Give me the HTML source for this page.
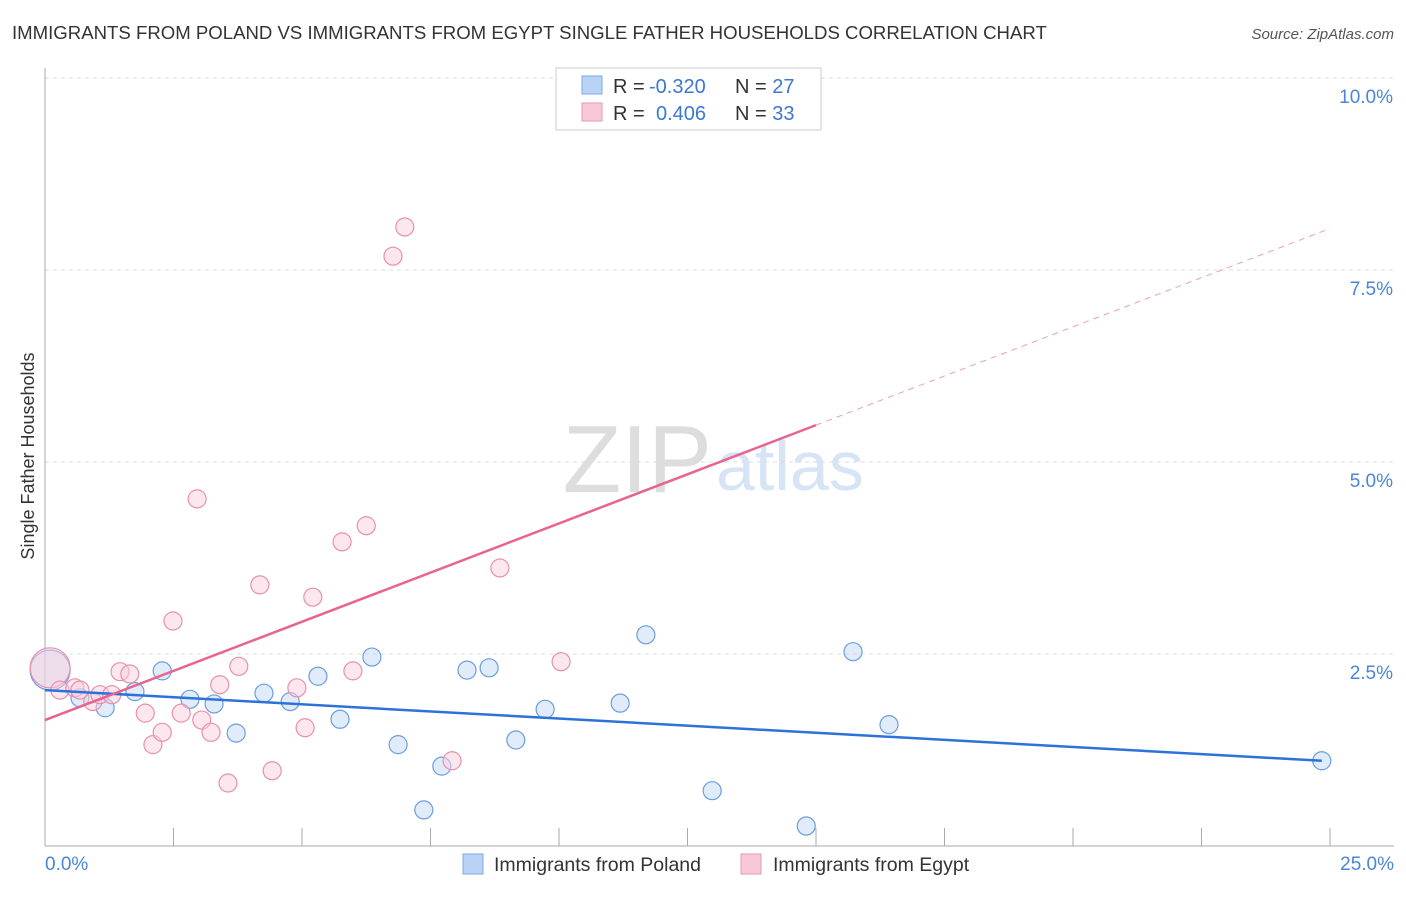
<!DOCTYPE html>
<html><head><meta charset="utf-8"><style>
body{margin:0;background:#fff;font-family:"Liberation Sans",sans-serif;}
svg text{font-family:"Liberation Sans",sans-serif;}
</style></head><body>
<svg width="1406" height="892">
<text x="12" y="39" font-size="18.6" fill="#333">IMMIGRANTS FROM POLAND VS IMMIGRANTS FROM EGYPT SINGLE FATHER HOUSEHOLDS CORRELATION CHART</text>
<text x="1394" y="39" font-size="15" fill="#555" font-style="italic" text-anchor="end">Source: ZipAtlas.com</text>
<text x="712" y="492" font-size="96" fill="#ddd" text-anchor="end" font-family="Liberation Serif">ZIP</text>
<text x="716" y="490" font-size="70" fill="#d6e4f5">atlas</text>
<g id="grid"></g>
<g id="axes"></g>
<g id="points"></g>
<g id="lines"></g>
<text transform="translate(34,456) rotate(-90)" font-size="18" fill="#333" text-anchor="middle">Single Father Households</text>
<g>
<rect x="556" y="68" width="265" height="62" fill="#fff" stroke="#ccc"/>
<rect x="582" y="76" width="20" height="18" fill="#b9d3f4" stroke="#7da8e0"/>
<text x="613" y="93" font-size="20" fill="#333">R =</text>
<text x="649" y="93" font-size="20" fill="#3a78d4">-0.320</text>
<text x="735" y="93" font-size="20" fill="#333">N = <tspan fill="#3a78d4">27</tspan></text>
<rect x="582" y="103" width="20" height="18" fill="#f8c8d6" stroke="#e89ab2"/>
<text x="613" y="120" font-size="20" fill="#333">R =</text>
<text x="656" y="120" font-size="20" fill="#3a78d4">0.406</text>
<text x="735" y="120" font-size="20" fill="#333">N = <tspan fill="#3a78d4">33</tspan></text>
</g>
<g>
<rect x="463" y="854" width="20" height="20" fill="#b9d3f4" stroke="#7da8e0"/>
<text x="494" y="871" font-size="19.5" fill="#333">Immigrants from Poland</text>
<rect x="741" y="854" width="20" height="20" fill="#f8c8d6" stroke="#e89ab2"/>
<text x="773" y="871" font-size="19.5" fill="#333">Immigrants from Egypt</text>
</g>
</svg>
<script>
const polandX=[0.10,0.68,1.17,1.75,2.28,2.82,3.29,3.72,4.26,4.77,5.31,5.74,6.36,6.87,7.37,7.72,8.21,8.64,9.16,9.73,11.19,11.69,12.98,14.81,15.72,16.42,24.84];
const polandY=[2.29,1.93,1.80,2.01,2.28,1.91,1.85,1.47,1.99,1.88,2.21,1.65,2.46,1.32,0.47,1.04,2.29,2.32,1.38,1.78,1.86,2.75,0.72,0.26,2.53,1.58,1.11];
const egyptX=[0.10,0.29,0.58,0.68,0.93,1.07,1.30,1.46,1.65,1.95,2.10,2.28,2.49,2.65,2.96,3.05,3.23,3.40,3.56,3.77,4.18,4.42,4.90,5.06,5.21,5.78,5.99,6.25,6.77,7.00,7.92,8.85,10.04];
const egyptY=[2.32,2.03,2.06,2.03,1.88,1.97,1.97,2.27,2.24,1.73,1.32,1.48,2.93,1.73,4.52,1.64,1.48,2.10,0.82,2.34,3.40,0.98,2.06,1.54,3.24,3.96,2.28,4.17,7.68,8.06,1.11,3.62,2.40];
const yTicks=[2.5,5.0,7.5,10.0];
const xTickLabels=["0.0%","25.0%"];
const polandTrend=[2.03,1.11];
const egyptTrend=[1.64,8.04];
const NS="http://www.w3.org/2000/svg";
const X=v=>45+v*51.4, Y=v=>846-v*76.8;
function mk(t,a,p){const e=document.createElementNS(NS,t);for(const k in a)e.setAttribute(k,a[k]);document.getElementById(p).appendChild(e);return e;}
yTicks.forEach(t=>{
 const l=mk('line',{x1:45,x2:1394,y1:Y(t),y2:Y(t),stroke:'#ddd','stroke-dasharray':'4,4'},'grid');
 
 
 const tx=mk('text',{x:1393,y:Y(t)+25,'font-size':19,fill:'#4a85d8','text-anchor':'end'},'axes');
 tx.textContent=t.toFixed(1)+'%';
 
 
});
const ax=mk('line',{x1:45,x2:45,y1:68,y2:846,stroke:'#aaa'},'axes');


const bx=mk('line',{x1:45,x2:1394,y1:846,y2:846,stroke:'#aaa'},'axes');


for(let i=1;i<=10;i++){const t=mk('line',{x1:X(i*2.5),x2:X(i*2.5),y1:828,y2:846,stroke:'#aaa'},'axes');
 
 }
[[0,'start',45],[25,'end',1394]].forEach((d,i)=>{const t=mk('text',{x:d[2],y:870,'font-size':19,fill:'#4a85d8','text-anchor':d[1]},'axes');t.textContent=xTickLabels[i];
 
 });
function pts(xs,ys,fill,stroke,name){xs.forEach((x,i)=>{const c=mk('circle',{cx:X(x),cy:Y(ys[i]),r:i===0?20:9,fill:fill,'fill-opacity':0.5,stroke:stroke,'stroke-width':1.2},'points');
 
 });}
pts(polandX,polandY,'#c3d9f5','#6a9de0','poland-point');
pts(egyptX,egyptY,'#fbd0dd','#e890ab','egypt-point');
const pl=mk('line',{x1:X(0),y1:Y(polandTrend[0]),x2:X(24.84),y2:Y(polandTrend[1]),stroke:'#2d72d9','stroke-width':2.5},'lines');


const ey=x=>egyptTrend[0]+(egyptTrend[1]-egyptTrend[0])*x/25;
const el=mk('line',{x1:X(0),y1:Y(ey(0)),x2:X(15),y2:Y(ey(15)),stroke:'#e8638f','stroke-width':2.5},'lines');


const ed=mk('line',{x1:X(15),y1:Y(ey(15)),x2:X(25),y2:Y(ey(25)),stroke:'#e8a0b8','stroke-width':1,'stroke-dasharray':'6,5'},'lines');


</script>
</body></html>
